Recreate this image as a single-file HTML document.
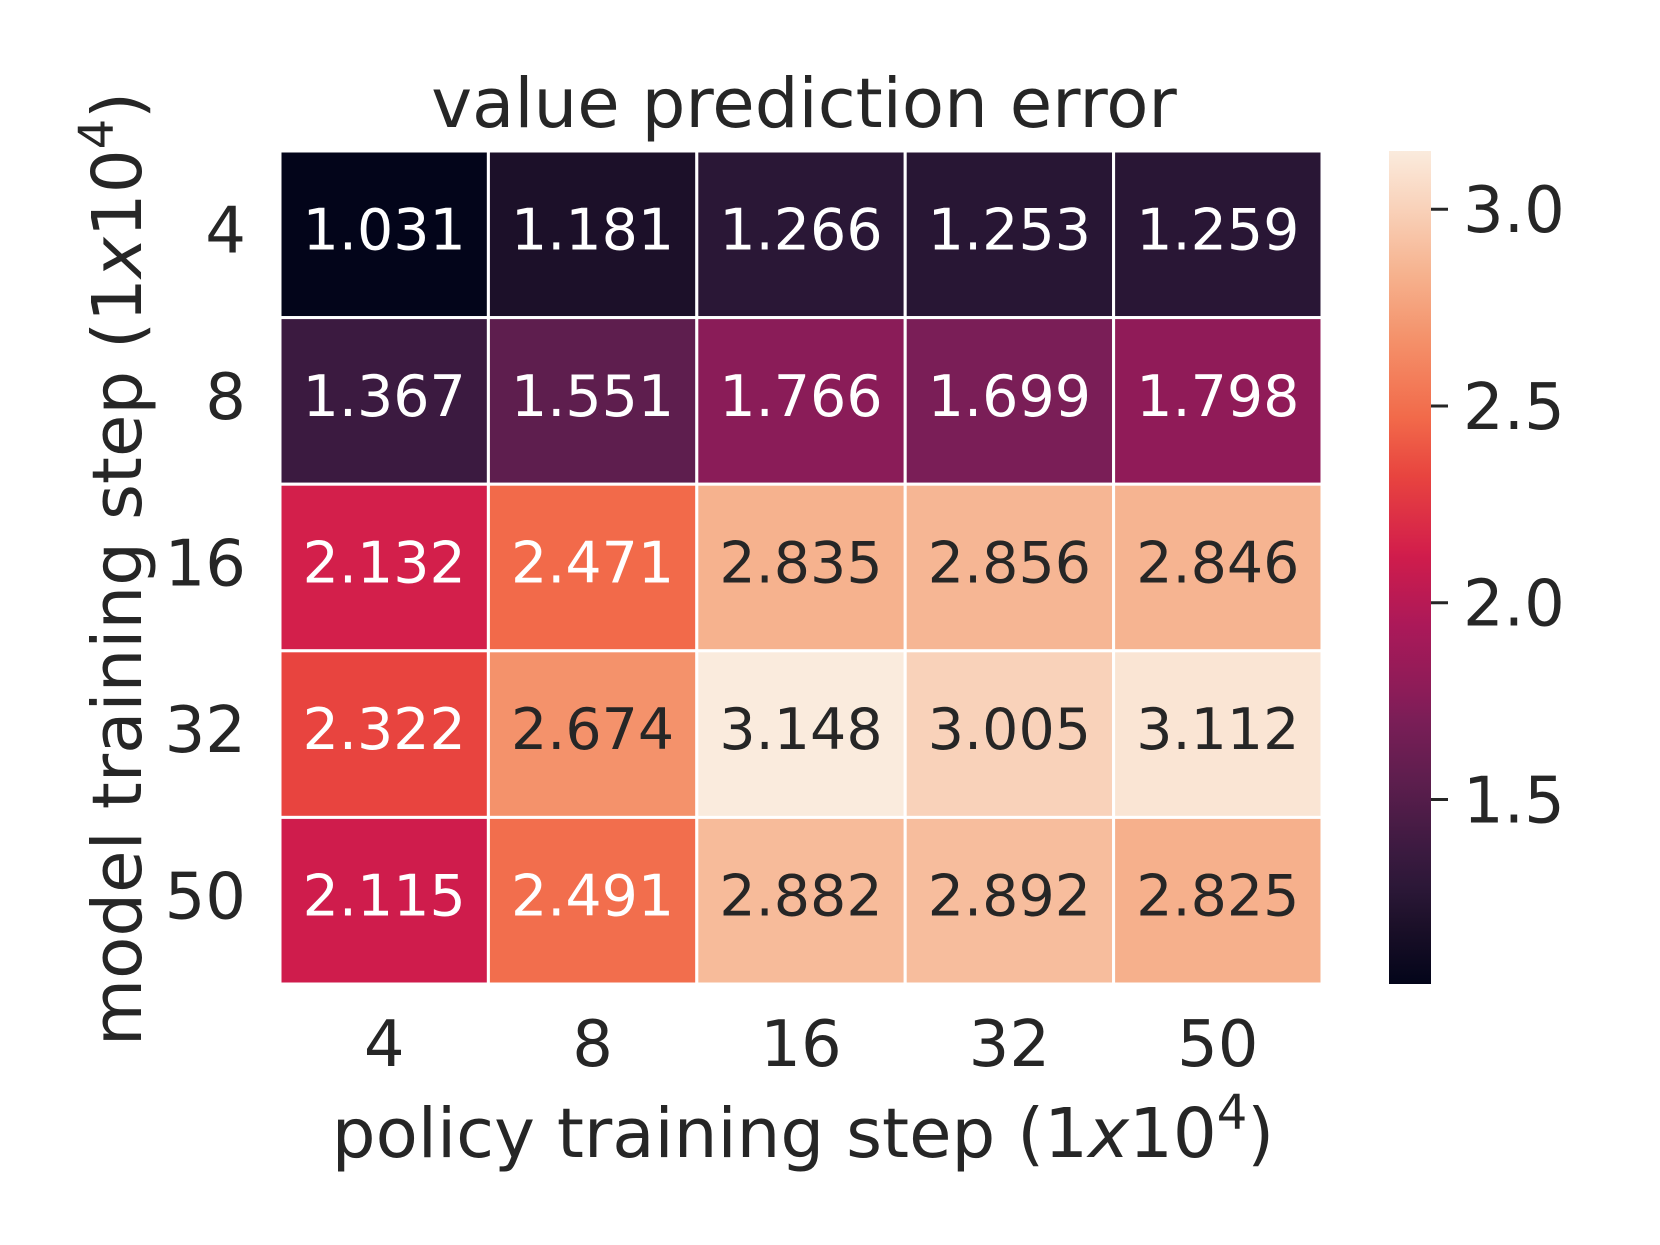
<!DOCTYPE html>
<html><head><meta charset="utf-8"><style>
html,body{margin:0;padding:0;background:#fff;}
svg{display:block;font-family:"DejaVu Sans","Liberation Sans",sans-serif;}
</style></head><body>
<svg id="chart" width="1660" height="1245" viewBox="0 0 1660 1245" xmlns="http://www.w3.org/2000/svg">
<defs><linearGradient id="cbgrad" x1="0" y1="1" x2="0" y2="0"></linearGradient></defs>
<text x="804" y="127" font-size="69" text-anchor="middle" fill="#262626">value prediction error</text>
<g id="cells"></g>
<g id="xticks"></g>
<g id="yticks"></g>
<text x="803" y="1157" font-size="69" text-anchor="middle" fill="#262626">policy training step (1<tspan font-style="italic">x</tspan>10<tspan font-size="48" dy="-28">4</tspan><tspan dy="28">)</tspan></text>
<text transform="translate(141,569) rotate(-90)" font-size="69" text-anchor="middle" fill="#262626">model training step (1<tspan font-style="italic">x</tspan>10<tspan font-size="48" dy="-28">4</tspan><tspan dy="28">)</tspan></text>
<rect x="1389" y="151" width="42" height="833" fill="url(#cbgrad)"/>
<g id="cbticks"></g>
</svg>
<script>
const xCategories = ["4","8","16","32","50"];
const yCategories = ["4","8","16","32","50"];
const row4 = [1.031,1.181,1.266,1.253,1.259];
const row8 = [1.367,1.551,1.766,1.699,1.798];
const row16 = [2.132,2.471,2.835,2.856,2.846];
const row32 = [2.322,2.674,3.148,3.005,3.112];
const row50 = [2.115,2.491,2.882,2.892,2.825];
const colorbarTicks = [1.5,2.0,2.5,3.0];

const rows=[row4,row8,row16,row32,row50];
const all=rows.flat();
const vmin=Math.min(...all), vmax=Math.max(...all);
const L=280,T=151,W=1042,H=833;
const cw=W/xCategories.length, ch=H/yCategories.length;
const xPos=i=>L+i*cw, yPos=j=>T+j*ch;
const cbY=v=>T+H-(v-vmin)/(vmax-vmin)*H;
const stops=[[0,"03051a"],[0.071,"1c1029"],[0.111,"2a1736"],[0.159,"3b1a40"],[0.246,"5e1e4e"],[0.316,"7a1e57"],[0.347,"8a1c58"],[0.43,"ab1959"],[0.512,"cf1c4c"],[0.52,"d31f4b"],[0.61,"e8443f"],[0.68,"f26a4a"],[0.776,"f4926b"],[0.852,"f6b28e"],[0.932,"f9d2ba"],[1,"faebdd"]];
const hx=h=>[0,2,4].map(k=>parseInt(h.substr(k,2),16));
function cmap(t){t=Math.max(0,Math.min(1,t));for(let i=1;i<stops.length;i++){if(t<=stops[i][0]){const a=stops[i-1],b=stops[i];const f=(t-a[0])/(b[0]-a[0]);const ca=hx(a[1]),cb=hx(b[1]);return ca.map((c,k)=>Math.round(c+(cb[k]-c)*f));}}return hx("faebdd");}
const NS="http://www.w3.org/2000/svg";
function mk(tag,attrs,parent){const e=document.createElementNS(NS,tag);for(const k in attrs)e.setAttribute(k,attrs[k]);parent.appendChild(e);return e;}
const grad=document.getElementById('cbgrad');
stops.forEach(s=>{mk('stop',{offset:s[0],'stop-color':'#'+s[1]},grad);});
const cells=document.getElementById('cells');
rows.forEach((r,j)=>r.forEach((v,i)=>{
  const c=cmap((v-vmin)/(vmax-vmin));
  const rect=mk('rect',{x:xPos(i),y:yPos(j),width:cw,height:ch,fill:`rgb(${c})`,stroke:'#fff','stroke-width':3},cells);
  
  
  const lum=(0.2126*c[0]+0.7152*c[1]+0.0722*c[2])/255;
  const t=mk('text',{x:xPos(i)+cw/2,y:yPos(j)+ch/2+15,'font-size':57,'text-anchor':'middle',fill:lum>0.58?'#262626':'#ffffff'},cells);
  
  
  t.textContent=v.toFixed(3);
}));
const xt=document.getElementById('xticks');
xCategories.forEach((s,i)=>{const t=mk('text',{x:xPos(i)+cw/2,y:1066,'font-size':64,'text-anchor':'middle',fill:'#262626'},xt);
  
  
  t.textContent=s;});
const yt=document.getElementById('yticks');
yCategories.forEach((s,j)=>{const t=mk('text',{x:246,y:yPos(j)+ch/2+18,'font-size':64,'text-anchor':'end',fill:'#262626'},yt);
  
  
  t.textContent=s;});
const cbt=document.getElementById('cbticks');
colorbarTicks.forEach(v=>{const y=cbY(v);
  const l=mk('line',{x1:1431,x2:1448,y1:y,y2:y,stroke:'#262626','stroke-width':3},cbt);
  
  
  const t=mk('text',{x:1463,y:y+23,'font-size':64,fill:'#262626'},cbt);
  
  
  t.textContent=v.toFixed(1);});
</script>
</body></html>
